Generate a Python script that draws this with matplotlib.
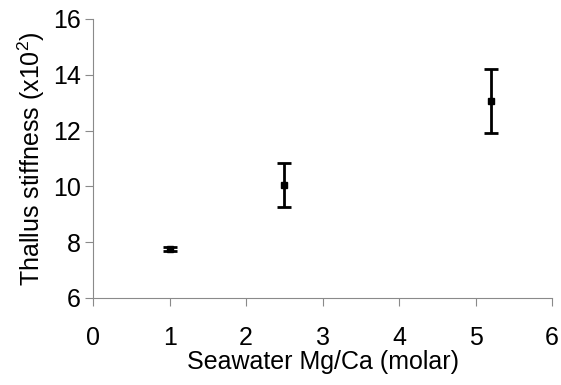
import matplotlib
matplotlib.use('Agg')
import matplotlib.pyplot as plt

plt.rcParams['font.family'] = ['Liberation Sans', 'DejaVu Sans']
plt.rcParams['mathtext.fontset'] = 'custom'
plt.rcParams['mathtext.rm'] = 'Liberation Sans'
plt.rcParams['mathtext.it'] = 'Liberation Sans'

# data
mgca = [1.0, 2.5, 5.2]
stiffness = [7.75, 10.05, 13.05]
err = [0.08, 0.8, 1.15]

x_ticks = [0, 1, 2, 3, 4, 5, 6]
y_ticks = [6, 8, 10, 12, 14, 16]

fig = plt.figure(figsize=(5.61, 3.85), dpi=100)
ax = fig.add_axes([0.166, 0.226, 0.818, 0.725])

ax.errorbar(mgca, stiffness, yerr=err, fmt='s', color='black', ms=5,
            elinewidth=2, capsize=5, capthick=2)

ax.set_xlim(0, 6)
ax.set_ylim(6, 16)
ax.set_xticks(x_ticks)
ax.set_yticks(y_ticks)

for side in ['top', 'right']:
    ax.spines[side].set_visible(False)
for side in ['left', 'bottom']:
    ax.spines[side].set_color('#8a8a8a')
    ax.spines[side].set_linewidth(0.8)

ax.tick_params(axis='x', direction='out', length=6, width=0.8, color='#8a8a8a',
               pad=14, labelsize=18)
ax.tick_params(axis='y', direction='out', length=6, width=0.8, color='#8a8a8a',
               pad=3, labelsize=18)

ax.set_xlabel('Seawater Mg/Ca (molar)', fontsize=18, labelpad=0)
ax.set_ylabel('Thallus stiffness (x10$^{2}$)', fontsize=18, labelpad=4)

fig.savefig('out.png', dpi=100)
